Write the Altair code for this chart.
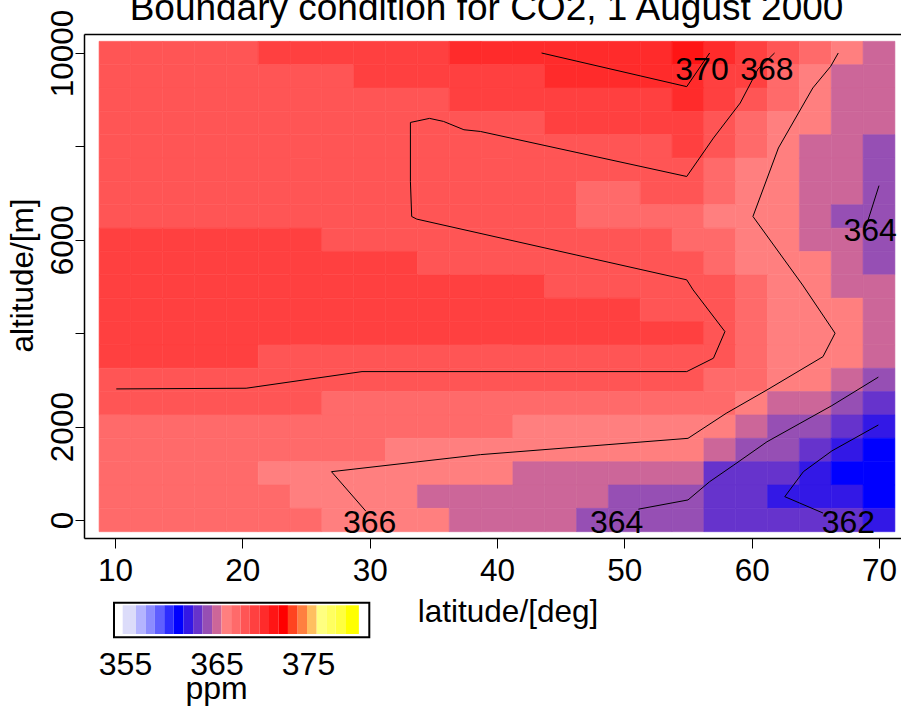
import altair as alt
import pandas as pd

# ---------------- grid of cell centres ----------------
latitude = [10.0, 12.5, 15.0, 17.5, 20.0, 22.5, 25.0, 27.5, 30.0, 32.5, 35.0, 37.5, 40.0,
            42.5, 45.0, 47.5, 50.0, 52.5, 55.0, 57.5, 60.0, 62.5, 65.0, 67.5, 70.0]
altitude = [10000, 9500, 9000, 8500, 8000, 7500, 7000, 6500, 6000, 5500, 5000,
            4500, 4000, 3500, 3000, 2500, 2000, 1500, 1000, 500, 0]

# CO2 [ppm] per cell, top row (10000 m) first, columns from 10 to 70 deg
co2 = [
    [368, 368, 368, 368, 368, 369, 369, 369, 369, 369, 369, 370, 370, 370, 370, 370, 370, 370, 371, 370, 369, 368, 367, 366, 365],
    [368, 368, 368, 368, 368, 368, 368, 368, 369, 369, 369, 369, 369, 369, 370, 370, 370, 370, 370, 369, 369, 367, 366, 365, 365],
    [368, 368, 368, 368, 368, 368, 368, 368, 368, 368, 368, 369, 369, 369, 369, 369, 369, 369, 370, 369, 368, 367, 366, 365, 365],
    [368, 368, 368, 368, 368, 368, 368, 368, 368, 368, 368, 368, 368, 368, 369, 369, 369, 369, 369, 368, 367, 366, 366, 365, 365],
    [368, 368, 368, 368, 368, 368, 368, 368, 368, 368, 368, 368, 368, 368, 368, 368, 368, 368, 369, 368, 367, 366, 365, 365, 364],
    [368, 368, 368, 368, 368, 368, 368, 368, 368, 368, 368, 368, 368, 368, 368, 368, 368, 368, 368, 367, 366, 366, 365, 365, 364],
    [368, 368, 368, 368, 368, 368, 368, 368, 368, 368, 368, 368, 368, 368, 368, 367, 367, 368, 368, 367, 366, 366, 365, 365, 364],
    [368, 368, 368, 368, 368, 368, 368, 368, 368, 368, 368, 368, 368, 368, 368, 367, 367, 367, 367, 366, 366, 366, 365, 364, 364],
    [369, 369, 369, 369, 369, 369, 369, 368, 368, 368, 368, 368, 368, 368, 368, 368, 368, 368, 367, 367, 366, 366, 365, 365, 364],
    [369, 369, 369, 369, 369, 369, 369, 369, 369, 369, 368, 368, 368, 368, 368, 368, 368, 368, 368, 367, 366, 366, 366, 365, 364],
    [369, 369, 369, 369, 369, 369, 369, 369, 369, 369, 369, 369, 369, 369, 368, 368, 368, 368, 368, 368, 367, 366, 366, 365, 365],
    [369, 369, 369, 369, 369, 369, 369, 369, 369, 369, 369, 369, 369, 369, 369, 369, 369, 368, 368, 368, 367, 366, 366, 366, 365],
    [369, 369, 369, 369, 369, 369, 369, 369, 369, 369, 369, 369, 369, 369, 369, 369, 369, 369, 369, 368, 367, 366, 366, 366, 365],
    [369, 369, 369, 369, 369, 368, 368, 368, 368, 368, 368, 368, 368, 368, 368, 368, 368, 368, 368, 368, 367, 366, 366, 366, 365],
    [368, 368, 368, 368, 368, 368, 368, 368, 368, 368, 368, 368, 368, 368, 368, 368, 368, 368, 368, 367, 367, 366, 366, 365, 364],
    [368, 368, 368, 368, 368, 368, 368, 367, 367, 367, 367, 367, 367, 367, 367, 367, 367, 367, 367, 367, 366, 365, 365, 364, 363],
    [367, 367, 367, 367, 367, 367, 367, 367, 367, 367, 367, 367, 367, 366, 366, 366, 366, 366, 366, 366, 365, 364, 364, 363, 362],
    [367, 367, 367, 367, 367, 367, 367, 367, 367, 366, 366, 366, 366, 366, 366, 366, 366, 366, 366, 365, 364, 364, 363, 362, 361],
    [367, 367, 367, 367, 367, 366, 366, 366, 366, 366, 366, 366, 366, 365, 365, 365, 365, 365, 365, 363, 363, 363, 362, 361, 361],
    [367, 367, 367, 367, 367, 367, 366, 366, 366, 366, 365, 365, 365, 365, 365, 365, 364, 364, 364, 363, 363, 362, 362, 362, 361],
    [367, 367, 367, 367, 367, 367, 367, 366, 366, 366, 366, 365, 365, 365, 365, 364, 364, 364, 364, 363, 363, 363, 363, 363, 362],
]
cell_half_lat = 1.25
cell_half_alt = 250

# ---------------- colour key ----------------
key_edges = [354.75, 356.20, 357.29, 358.27, 359.29, 360.31, 361.40, 362.45, 363.48, 364.52,
             365.55, 366.60, 367.62, 368.64, 369.73, 370.74, 371.80, 372.81, 373.87, 374.89,
             375.95, 377.00, 378.02, 379.08, 380.56]
key_colors = ["#DCDCFA", "#B4B4FF", "#8C8CFF", "#5F5FFF", "#2D2DFF", "#0000FF", "#3318E6",
              "#6633CC", "#964FB4", "#CC6699", "#FF7F7F", "#FF6A6A", "#FF5555", "#FF4040",
              "#FF2B2B", "#FF1515", "#FF0000", "#FF4420", "#FF7F40", "#FFBF60", "#FFFF80",
              "#FFFF60", "#FFFF40", "#FFFF00"]
key_box_ppm = [353.8, 381.7]
key_box_level = [-0.11, 1.09]
key_labels = [355, 365, 375]

# ---------------- contour lines ----------------
c370_lat = [43.5, 54.9, 56.7]
c370_alt = [10000, 9280, 10000]
c368_lat = [61.8, 60.5, 59.1, 57.0, 54.9, 38.7, 37.4, 35.8, 34.7, 33.2, 33.2, 33.3, 33.7,
            54.9, 55.4, 57.9, 57.0, 54.9, 29.4, 20.3, 10.1]
c368_alt = [10000, 9657, 8929, 8180, 7356, 8320, 8357, 8535, 8600, 8513, 7249, 6499, 6443,
            5143, 4928, 4035, 3465, 3178, 3178, 2822, 2807]
c366_lat = [66.8, 66.2, 64.8, 62.1, 60.1, 64.0, 66.55, 65.6, 61.2, 58.0, 55.0, 38.7, 27.0, 29.7]
c366_alt = [10000, 9713, 9251, 7966, 6500, 5032, 4000, 3498, 2785, 2285, 1749, 1400, 1035, 190]
c364a_lat = [69.95, 66.3, 61.2, 58.6, 56.7, 55.0, 51.1]
c364a_alt = [3060, 2450, 1675, 1178, 821, 430, 232]
c364b_lat = [70.0, 69.0]
c364b_alt = [7160, 6300]
c362_lat = [69.95, 66.3, 64.06, 62.6, 65.6]
c362_alt = [2035, 1480, 1035, 500, 150]

label_text = ["370", "368", "364", "366", "364", "362"]
label_lat = [56.1, 61.2, 69.3, 30.0, 49.4, 67.6]
label_alt = [9420, 9420, 5980, -285, -285, -285]

# ---------------- tables ----------------
cells = []
for r, a in enumerate(altitude):
    for c, la in enumerate(latitude):
        cells.append({"lat": la, "alt": a, "co2": co2[r][c]})
grid = pd.DataFrame(cells)

line_rows = []
for cid, (lats, alts) in enumerate([(c370_lat, c370_alt), (c368_lat, c368_alt),
                                     (c366_lat, c366_alt), (c364a_lat, c364a_alt),
                                     (c364b_lat, c364b_alt), (c362_lat, c362_alt)]):
    for k, (la, a) in enumerate(zip(lats, alts)):
        line_rows.append({"id": cid, "seq": k, "lat": la, "alt": a})
lines_df = pd.DataFrame(line_rows)

labels_df = pd.DataFrame({"label": label_text, "lat": label_lat, "alt": label_alt})
key_df = pd.DataFrame({"lo": key_edges[:-1], "hi": key_edges[1:]})
box_df = pd.DataFrame({"lo": [key_box_ppm[0]], "hi": [key_box_ppm[1]],
                       "b0": [key_box_level[0]], "b1": [key_box_level[1]]})

FONT = "Liberation Sans"
color_scale = alt.Scale(type="threshold", domain=key_edges[1:-1], range=key_colors)
xs = alt.Scale(domain=[7.565, 71.728], nice=False, zero=False)
ys = alt.Scale(domain=[-385, 10407], nice=False, zero=False)
kx = alt.Scale(domain=key_box_ppm, range=[30, 285.3], nice=False, zero=False)
ky = alt.Scale(domain=[0, 1], range=[600, 571.3], nice=False, zero=False)

heat = alt.Chart(grid).transform_calculate(
    x0=f"datum.lat - {cell_half_lat}", x1=f"datum.lat + {cell_half_lat}",
    y0=f"datum.alt - {cell_half_alt}", y1=f"datum.alt + {cell_half_alt}",
).mark_rect(strokeWidth=0.6).encode(
    x=alt.X("x0:Q", scale=xs, axis=alt.Axis(
        orient="bottom", values=[10, 20, 30, 40, 50, 60, 70], format="d", grid=False,
        tickSize=10, tickColor="black", tickWidth=1, domainColor="black", domainWidth=1.5,
        labelFont=FONT, labelFontSize=31.5, labelColor="black", labelPadding=32,
        labelBaseline="alphabetic", labelFlush=False, labelOverlap=False,
        title="latitude/[deg]", titleFont=FONT, titleFontSize=31.5, titleFontWeight="normal",
        titleColor="black", titleX=423.5, titleY=83, titleAlign="center",
        titleBaseline="alphabetic")),
    x2="x1:Q",
    y=alt.Y("y0:Q", scale=ys, axis=alt.Axis(
        orient="left", values=[0, 2000, 4000, 6000, 8000, 10000], format="d", grid=False,
        labelExpr="datum.value == 4000 || datum.value == 8000 ? '' : datum.label",
        tickSize=9, tickColor="black", tickWidth=1, domainColor="black", domainWidth=1.5,
        labelFont=FONT, labelFontSize=31.5, labelColor="black", labelPadding=3,
        labelAngle=270, labelAlign="center", labelBaseline="alphabetic",
        labelFlush=False, labelOverlap=False,
        title="altitude/[m]", titleFont=FONT, titleFontSize=31.5, titleFontWeight="normal",
        titleColor="black", titleAngle=270, titleX=-52, titleY=241, titleAlign="center",
        titleBaseline="alphabetic")),
    y2="y1:Q",
    color=alt.Color("co2:Q", scale=color_scale, legend=None),
    stroke=alt.Stroke("co2:Q", scale=color_scale, legend=None),
)

lines = alt.Chart(lines_df).mark_line(color="black", strokeWidth=1).encode(
    x=alt.X("lat:Q", scale=xs, axis=alt.Axis(
        orient="top", labels=False, ticks=False, grid=False, title="",
        domainColor="black", domainWidth=1.5)),
    y=alt.Y("alt:Q", scale=ys, axis=None),
    detail="id:N",
    order="seq:Q",
)

texts = alt.Chart(labels_df).mark_text(
    font=FONT, fontSize=32, color="black", align="center", baseline="alphabetic"
).encode(
    x=alt.X("lat:Q", scale=xs, axis=None),
    y=alt.Y("alt:Q", scale=ys, axis=None),
    text="label:N",
)

box = alt.Chart(box_df).mark_rect(fill="white", stroke="black", strokeWidth=2).encode(
    x=alt.X("lo:Q", scale=kx, axis=None),
    x2="hi:Q",
    y=alt.Y("b0:Q", scale=ky, axis=None),
    y2="b1:Q",
)

blocks = alt.Chart(key_df).transform_calculate(
    mid="(datum.lo + datum.hi) / 2", b0="0", b1="1"
).mark_rect().encode(
    x=alt.X("lo:Q", scale=kx, axis=alt.Axis(
        orient="bottom", offset=100, values=key_labels, format="d", grid=False,
        ticks=False, tickSize=0, domain=False,
        labelFont=FONT, labelFontSize=32, labelColor="black", labelPadding=36,
        labelBaseline="alphabetic", labelFlush=False, labelOverlap=False,
        title="ppm", titleFont=FONT, titleFontSize=32, titleFontWeight="normal",
        titleColor="black", titleX=132, titleY=60, titleAlign="center",
        titleBaseline="alphabetic")),
    x2="hi:Q",
    y=alt.Y("b0:Q", scale=ky, axis=None),
    y2="b1:Q",
    color=alt.Color("mid:Q", scale=color_scale, legend=None),
)

chart = alt.layer(heat, lines, texts, box, blocks).resolve_scale(
    x="independent", y="independent"
).resolve_axis(
    x="independent", y="independent"
).properties(
    width=817, height=504,
    autosize=alt.AutoSizeParams(type="none"),
    padding={"left": 84, "top": 34, "right": 0, "bottom": 172},
    title=alt.TitleParams(
        text="Boundary condition for CO2, 1 August 2000", font=FONT, fontSize=37,
        fontWeight="normal", color="black", anchor="middle", frame="group",
        offset=-19, dx=-6),
).configure_view(strokeWidth=0).configure(font=FONT)

chart.save("out.html", embed_options={"renderer": "svg", "actions": False})
